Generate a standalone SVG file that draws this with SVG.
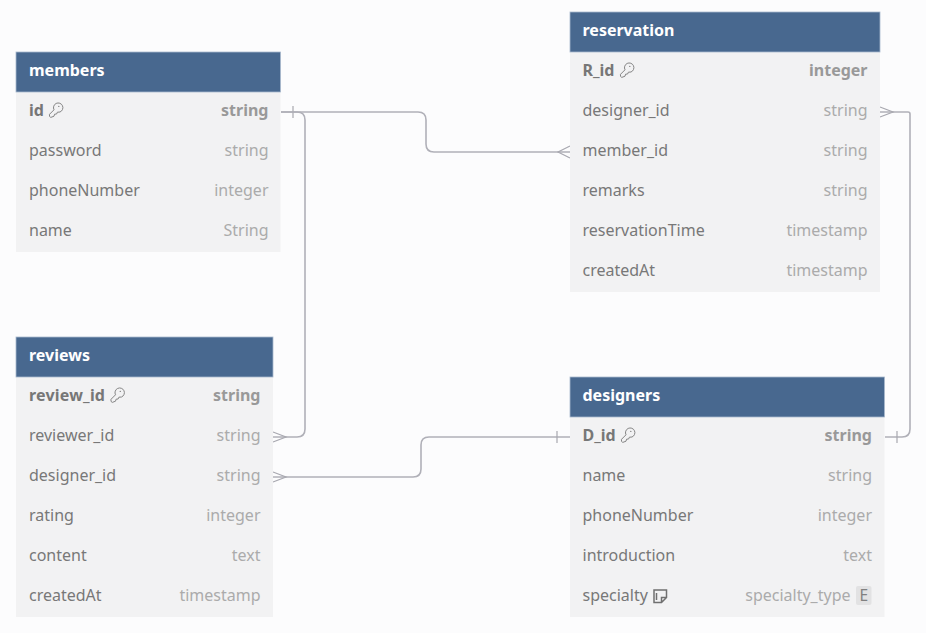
<svg xmlns="http://www.w3.org/2000/svg" width="926" height="633" viewBox="0 0 926 633">
<style>
text{font-family:"Noto Sans","Open Sans",sans-serif;font-size:16px}
.bg{fill:#fcfcfd}
.body{fill:#f2f2f3}
.head{fill:#48688f;stroke:#a9b9cd;stroke-width:.8}
.title{fill:#fff;font-weight:700}
.n{fill:#787878}
.t{fill:#ababab;text-anchor:end}
.bn{fill:#777;font-weight:700}
.bt{fill:#999;font-weight:700;text-anchor:end}
.c{fill:none;stroke:#b0b0b8;stroke-width:1.6}
.m{fill:none;stroke:#a8a8b0;stroke-width:1.2}
.i{fill:none;stroke:#858585;stroke-width:1}
</style>
<defs>
<g id="key"><path class="i" d="M6 -1.200A4.700 4.700 0 1 1 12 1L9.400 1.200 8.600 3 6.600 3.200 6 5.200 2.800 6.400 1.500 5.400 1.500 3.300Z"/><circle cx="10.800" cy="-4.600" r=".7" fill="#858585"/></g>
</defs>
<rect class="bg" width="926" height="633"/>
<g id="connectors">
<path class="c" d="M281 112H418Q426 112 426 120V144Q426 152 434 152H570"/>
<path class="m" d="M293 106V118M570 146L558 152L570 158"/>
<path class="c" d="M281 112H297Q305 112 305 120V429Q305 437 297 437H273"/>
<path class="m" d="M273 432L286 437L273 442"/>
<path class="c" d="M273 477H413Q421 477 421 469V445Q421 437 429 437H570"/>
<path class="m" d="M273 472L286 477L273 482M557 431V443"/>
<path class="c" d="M880 112H908Q910 112 910 114V429Q910 437 902 437H885"/>
<path class="m" d="M880 107L893 112L880 117M897 431V443"/>
</g>
<g id="members">
<rect class="body" x="16" y="92" width="264.500" height="160"/>
<rect class="head" x="16" y="52" width="264.500" height="40"/>
<text class="title" x="29" y="76">members</text>
<text class="bn" x="29" y="116">id</text><use href="#key" x="48" y="111"/><text class="bt" x="268.500" y="116">string</text>
<text class="n" x="29" y="156">password</text><text class="t" x="268.500" y="156">string</text>
<text class="n" x="29" y="196">phoneNumber</text><text class="t" x="268.500" y="196">integer</text>
<text class="n" x="29" y="236">name</text><text class="t" x="268.500" y="236">String</text>
</g>
<g id="reviews">
<rect class="body" x="16" y="377" width="257" height="240"/>
<rect class="head" x="16" y="337" width="257" height="40"/>
<text class="title" x="29" y="361">reviews</text>
<text class="bn" x="29" y="401" letter-spacing=".2">review_id</text><use href="#key" x="109.500" y="396"/><text class="bt" x="260.500" y="401">string</text>
<text class="n" x="29" y="441.300">reviewer_id</text><text class="t" x="260.500" y="441.300">string</text>
<text class="n" x="29" y="481.300">designer_id</text><text class="t" x="260.500" y="481.300">string</text>
<text class="n" x="29" y="521.300">rating</text><text class="t" x="260.500" y="521.300">integer</text>
<text class="n" x="29" y="561.300">content</text><text class="t" x="260.500" y="561.300">text</text>
<text class="n" x="29" y="601.300">createdAt</text><text class="t" x="260.500" y="601.300">timestamp</text>
</g>
<g id="reservation">
<rect class="body" x="570" y="52" width="310" height="240"/>
<rect class="head" x="570" y="12" width="310" height="40"/>
<text class="title" x="582.500" y="36">reservation</text>
<text class="bn" x="582.500" y="76">R_id</text><use href="#key" x="619" y="71"/><text class="bt" x="867.500" y="76">integer</text>
<text class="n" x="582.500" y="116">designer_id</text><text class="t" x="867.500" y="116">string</text>
<text class="n" x="582.500" y="156">member_id</text><text class="t" x="867.500" y="156">string</text>
<text class="n" x="582.500" y="196">remarks</text><text class="t" x="867.500" y="196">string</text>
<text class="n" x="582.500" y="236">reservationTime</text><text class="t" x="867.500" y="236">timestamp</text>
<text class="n" x="582.500" y="276">createdAt</text><text class="t" x="867.500" y="276">timestamp</text>
</g>
<g id="designers">
<rect class="body" x="570" y="417" width="314.500" height="200"/>
<rect class="head" x="570" y="377" width="314.500" height="40"/>
<text class="title" x="582.500" y="401">designers</text>
<text class="bn" x="582.500" y="441">D_id</text><use href="#key" x="620" y="436"/><text class="bt" x="872" y="441">string</text>
<text class="n" x="582.500" y="481">name</text><text class="t" x="872" y="481">string</text>
<text class="n" x="582.500" y="521">phoneNumber</text><text class="t" x="872" y="521">integer</text>
<text class="n" x="582.500" y="561">introduction</text><text class="t" x="872" y="561">text</text>
<text class="n" x="582.500" y="601">specialty</text>
<path d="M654 590H666.500V597.500L661.500 602.500H654ZM661.500 602.500V597.500H666.500M656.500 593V600" fill="none" stroke="#707070" stroke-width="1.500"/>
<text class="t" x="850.500" y="601">specialty_type</text>
<rect x="856" y="586" width="15.500" height="19" rx="2" fill="#e2e2e3"/>
<text x="863.800" y="601" text-anchor="middle" fill="#808080" style="font-size:15.500px">E</text>
</g>
</svg>
